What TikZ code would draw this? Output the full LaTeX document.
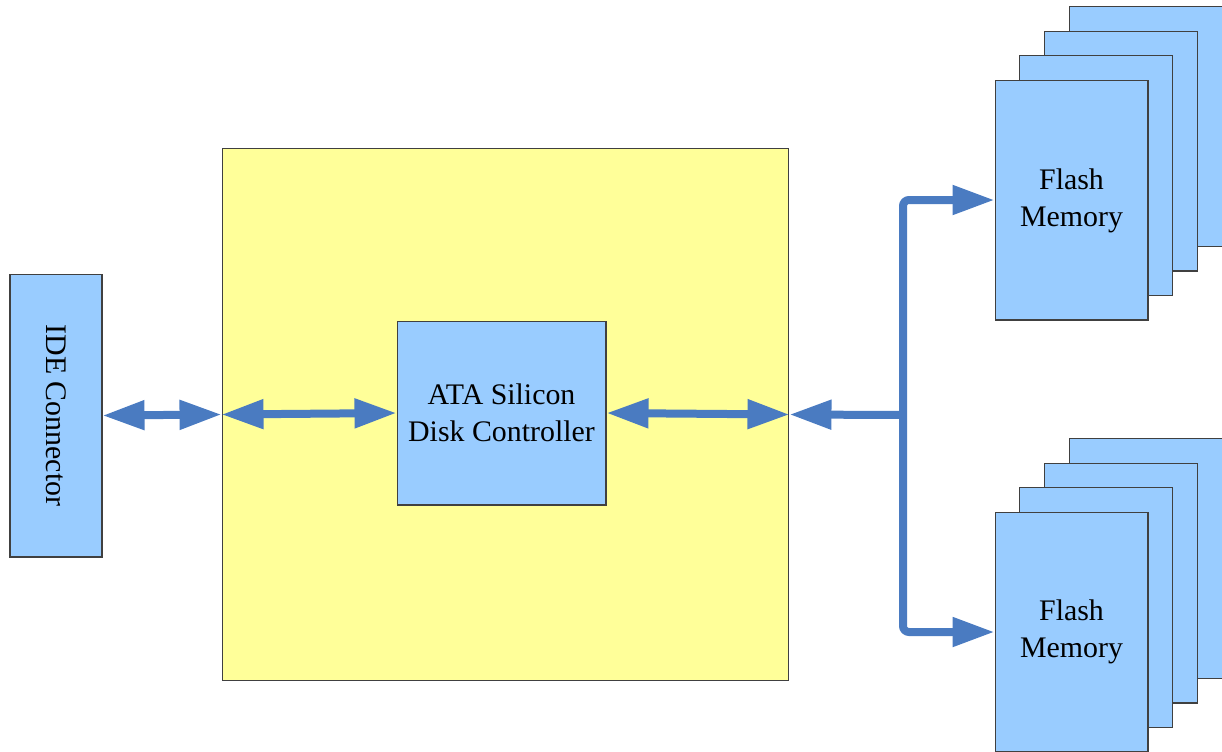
\documentclass[tikz,border=0pt]{standalone}
\usepackage{fontspec}
\setmainfont{Liberation Serif}
\usetikzlibrary{arrows.meta}
\definecolor{chipblue}{HTML}{99CCFF}
\definecolor{boardyellow}{HTML}{FFFF99}
\definecolor{busblue}{HTML}{4A7BC1}

\begin{document}
\begin{tikzpicture}[x=0.02cm, y=-0.02cm,
    >={Triangle[length=0.84cm, width=0.56cm]},
    box/.style={draw=black!75, line width=0.6pt, fill=chipblue, inner sep=0pt, align=center, font=\fontsize{17}{21}\selectfont},
    card/.style={box, minimum width=3.06cm, minimum height=4.8cm},
    link/.style={draw=busblue, line width=0.16cm}]
        \clip (0,0) rectangle (1222,751);
        \node[box, minimum width=1.84cm, minimum height=5.66cm] (ide) at (56, 415.5) {};
        \node[rotate=-90, font=\fontsize{17}{21}\selectfont] (idetext) at (ide.center) {IDE Connector};
        \node[box, fill=boardyellow, minimum width=11.34cm, minimum height=10.66cm] (board) at (505.5, 414.5) {};
        \node[box, minimum width=4.18cm, minimum height=3.68cm] (ata) at (501.5, 413) {ATA Silicon\\Disk Controller};
        % flash stacks
        \foreach \i in {3,2,1} {
            \node[card] (fa\i) at ({1071.5+24.8*\i}, {200-24.5*\i}) {};
            \node[card] (fb\i) at ({1071.5+24.8*\i}, {632-24.5*\i}) {};
        }
        \node[card] (fa0) at (1071.5, 200) {};
        \node[card] (fb0) at (1071.5, 632) {};
        \node[font=\fontsize{17}{21}\selectfont, align=center] (fatext) at (1071.5, 201) {Flash\\Memory};
        \node[font=\fontsize{17}{21}\selectfont, align=center] (fbtext) at (1071.5, 632) {Flash\\Memory};
        \coordinate (bus) at (903, 415);
        \draw[link, <->] (ide.east) to (board.west);
        \draw[link, <->] (board.west) to (ata.west);
        \draw[link, <->] (ata.east) to (board.east);
        \draw[link, ->] (bus) to (board.east);
        \draw[link, <->, rounded corners=0.12cm] (fa0.west) -| (bus) |- (fb0.west);
    \end{tikzpicture}
\end{document}
